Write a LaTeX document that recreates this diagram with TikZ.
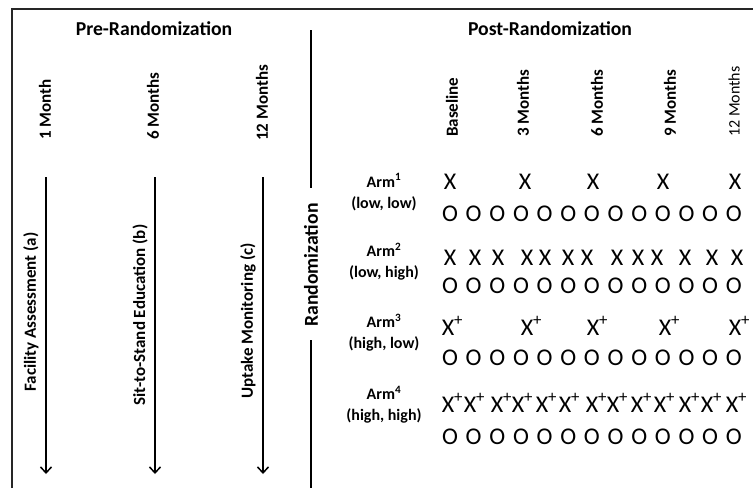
\documentclass[tikz,border=0pt]{standalone}
\usepackage{fontspec}
\setmainfont{Carlito}
\usetikzlibrary{arrows.meta}
\begin{document}
\begin{tikzpicture}[x=1pt,y=-1pt,
  hdr/.style={font=\fontsize{19.7}{23}\selectfont\bfseries, inner sep=0pt},
  tlabel/.style={font=\fontsize{17}{20}\selectfont\bfseries, rotate=90, anchor=west, inner sep=0pt},
  tlabelreg/.style={font=\fontsize{16}{20}\selectfont, rotate=90, anchor=west, inner sep=0pt},
  alabel/.style={font=\fontsize{17}{20}\selectfont\bfseries, rotate=90, inner sep=0pt},
  armlabel/.style={font=\fontsize{16}{21}\selectfont\bfseries, align=center, inner sep=0pt},
  glyph/.style={font=\fontsize{24}{28}\selectfont, anchor=base, inner sep=0pt},
  frameline/.style={line width=2pt, draw=black!85},
  tline/.style={line width=1.5pt, -{Straight Barb[length=6pt,width=11pt,line width=1.5pt]}},
  rline/.style={line width=1.2pt}
]
\useasboundingbox (0,0) rectangle (753,488);
% frame
\coordinate (fbl) at (12,488);
\coordinate (ftl) at (12,9);
\coordinate (ftr) at (753,9);
\draw[frameline] (fbl) -- (ftl) -- (ftr);
% headers
\node[hdr, anchor=base] (pre) at (154,35) {Pre-Randomization};
\node[hdr, anchor=base] (post) at (550,35) {Post-Randomization};
% pre time labels
\node[tlabel] (m1) at (45,140) {1 Month};
\node[tlabel] (m6) at (153,140) {6 Months};
\node[tlabel] (m12) at (262,141) {12 Months};
% post time labels
\node[tlabel] (pb) at (452,137) {Baseline};
\node[tlabel] (p3) at (523,137) {3 Months};
\node[tlabel] (p6) at (597,137) {6 Months};
\node[tlabel] (p9) at (670,137) {9 Months};
\node[tlabelreg] (p12) at (734,137) {12 Months};
% arrows
\coordinate (a1s) at (46,177); \coordinate (a1e) at (46,474);
\coordinate (a2s) at (155,177); \coordinate (a2e) at (155,474);
\coordinate (a3s) at (263,177); \coordinate (a3e) at (263,474);
\draw[tline] (a1s) -- (a1e);
\draw[tline] (a2s) -- (a2e);
\draw[tline] (a3s) -- (a3e);
\node[alabel] (fa) at (31,312) {Facility Assessment (a)};
\node[alabel] (se) at (140,315) {Sit-to-Stand Education (b)};
\node[alabel] (um) at (248,321) {Uptake Monitoring (c)};
% randomization
\node[hdr, rotate=90] (rand) at (311,265) {Randomization};
\coordinate (rt) at (311,30); \coordinate (rtb) at (311,188);
\coordinate (rbt) at (311,340); \coordinate (rb) at (311,488);
\draw[rline] (rt) -- (rtb);
\draw[rline] (rbt) -- (rb);
% arm labels
\node[armlabel] (arm1) at (384,192) {Arm\textsuperscript{1}\\(low, low)};
\node[armlabel] (arm2) at (384,262) {Arm\textsuperscript{2}\\(low, high)};
\node[armlabel] (arm3) at (384,333) {Arm\textsuperscript{3}\\(high, low)};
\node[armlabel] (arm4) at (384,405) {Arm\textsuperscript{4}\\(high, high)};
% O rows
\foreach \i in {0,...,12} {
  \node[glyph] (oa\i) at ({450+23.65*\i},221) {O};
  \node[glyph] (ob\i) at ({450+23.65*\i},293) {O};
  \node[glyph] (oc\i) at ({450+23.65*\i},365) {O};
  \node[glyph] (od\i) at ({450+23.65*\i},444) {O};
}
% X rows
\foreach \xx [count=\i] in {450,525,593,663,735}
  \node[glyph] (xa\i) at (\xx,189) {X};
\foreach \xx [count=\i] in {450,475,498,527,545,568,587,617,638,657,685,712,737}
  \node[glyph] (xb\i) at (\xx,265) {X};
\foreach \xx [count=\i] in {448,527,593,665,735}
  \node[glyph] (xc\i) at (\xx,335) {X\rlap{\textsuperscript{+}}};
\foreach \xx [count=\i] in {448,470,497,518,542,565,592,613,637,660,685,707,732}
  \node[glyph] (xd\i) at (\xx,412) {X\rlap{\textsuperscript{+}}};
\end{tikzpicture}
\end{document}
